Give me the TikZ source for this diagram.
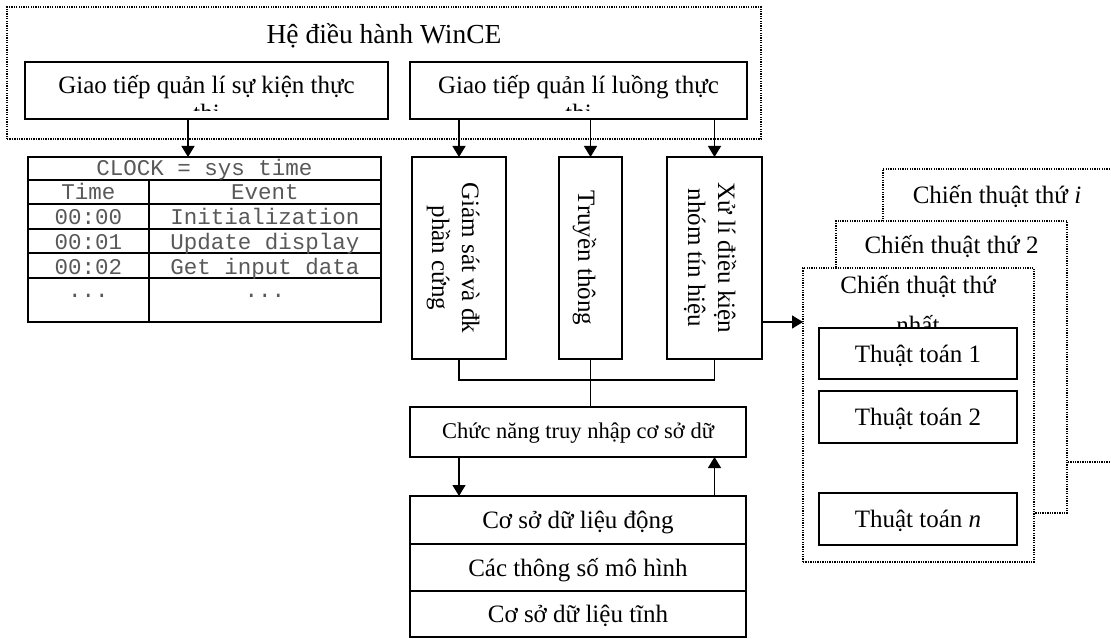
\documentclass[tikz,border=0pt]{standalone}
\usepackage{fontspec}
\setmainfont{Liberation Serif}
\setmonofont{Liberation Mono}
\usetikzlibrary{arrows.meta}
\begin{document}
\begin{tikzpicture}[x=1pt,y=-1pt,
  box/.style={draw, line width=1.5pt, fill=white, inner sep=0pt, outer sep=0pt},
  dotbox/.style={draw, line width=1.4pt, dash pattern=on 1.3pt off 1.1pt, fill=white, inner sep=0pt, outer sep=0pt},
  arr/.style={line width=1.3pt, -{Triangle[length=11pt,width=13pt]}},
  wire/.style={line width=1.3pt},
  tline/.style={line width=1.2pt},
  txt/.style={font=\fontsize{25}{28}\selectfont, inner sep=0pt},
  one/.style={font=\fontsize{25}{28}\selectfont, text height=17pt, text depth=0pt},
  vtxt/.style={font=\fontsize{25}{30}\selectfont, inner sep=0pt, rotate=-90, anchor=base},
  mono/.style={font=\fontsize{22.5}{27}\ttfamily, text=black!65, inner sep=0pt, anchor=base},
]
\useasboundingbox (0,0) rectangle (1111,639);
\fill[white] (0,0) rectangle (1111,639);

% WinCE frame
\node[dotbox, fill=none, minimum width=754pt, minimum height=132pt] (os) at (384,73) {};
\node[font=\fontsize{27.5}{33}\selectfont, anchor=base, inner sep=0pt] (title) at (384,44) {Hệ điều hành WinCE};
\node[box, minimum width=363pt, minimum height=57pt] (g1) at (206.5,90.5) {};
\node[box, minimum width=337pt, minimum height=57pt] (g2) at (578.5,90.5) {};
\begin{scope}
  \clip (25,62) rectangle (388,111);
  \node[txt, anchor=base] (g1t) at (206.5,94) {\begin{tabular}[t]{@{}c@{}}Giao tiếp quản lí sự kiện thực\\thi\end{tabular}};
\end{scope}
\begin{scope}
  \clip (410,62) rectangle (747,111);
  \node[txt, anchor=base] (g2t) at (578.5,94) {\begin{tabular}[t]{@{}c@{}}Giao tiếp quản lí luồng thực\\thi\end{tabular}};
\end{scope}

% event table
\node[draw, line width=1.5pt, inner sep=0pt, outer sep=0pt, minimum width=353pt, minimum height=165pt] (tbl) at (204.5,239.5) {};
\draw[tline] (28,180) -- (381,180);
\draw[tline] (28,204) -- (381,204);
\draw[tline] (28,229) -- (381,229);
\draw[tline] (28,253) -- (381,253);
\draw[tline] (28,278) -- (381,278);
\draw[tline] (149,180) -- (149,322);
\node[mono] (clk) at (204.5,176) {CLOCK = sys time};
\node[mono] (h1) at (88.5,200) {Time};
\node[mono] (h2) at (265,200) {Event};
\node[mono] (r1a) at (88.5,225) {00:00};
\node[mono] (r1b) at (265,225) {Initialization};
\node[mono] (r2a) at (88.5,249) {00:01};
\node[mono] (r2b) at (265,249) {Update display};
\node[mono] (r3a) at (88.5,274) {00:02};
\node[mono] (r3b) at (265,274) {Get input data};
\node[mono] (r4a) at (88.5,297) {...};
\node[mono] (r4b) at (265,297) {...};

% vertical modules
\node[box, minimum width=94pt, minimum height=202pt] (v1) at (459,258) {};
\node[box, minimum width=63pt, minimum height=202pt] (v2) at (590.5,258) {};
\node[box, minimum width=95pt, minimum height=202pt] (v3) at (714.5,258) {};
\node[vtxt] (v1t) at (462,258) {\begin{tabular}[t]{@{}c@{}}Giám sát và đk\\phần cứng\end{tabular}};
\node[vtxt] (v2t) at (578,258) {Truyền thông};
\node[vtxt] (v3t) at (718,258) {\begin{tabular}[t]{@{}c@{}}Xử lí điều kiện\\nhóm tín hiệu\end{tabular}};

% database access
\node[box, minimum width=336pt, minimum height=50pt, font=\fontsize{22.5}{27}\selectfont, text height=12pt, text depth=0pt] (cn) at (578,432) {Chức năng truy nhập cơ sở dữ};
\node[box, one, minimum width=336pt, minimum height=48pt] (db1) at (578,520) {Cơ sở dữ liệu động};
\node[box, one, minimum width=336pt, minimum height=47pt] (db2) at (578,567.5) {Các thông số mô hình};
\node[box, one, minimum width=336pt, minimum height=46pt] (db3) at (578,614) {Cơ sở dữ liệu tĩnh};

% strategies
\node[dotbox, minimum width=231pt, minimum height=293pt] (si) at (998.5,315.5) {};
\node[txt, anchor=base] (sit) at (997,204) {Chiến thuật thứ \textit{i}};
\node[dotbox, minimum width=231pt, minimum height=292pt] (s2) at (951.5,367) {};
\node[txt, anchor=base] (s2t) at (951.5,254) {Chiến thuật thứ 2};
\node[dotbox, minimum width=231pt, minimum height=294pt] (s1) at (918.5,415) {};
\node[txt, anchor=base, font=\fontsize{25}{40}\selectfont] (s1t) at (918,293) {\begin{tabular}[t]{@{}c@{}}Chiến thuật thứ\\nhất\end{tabular}};
\node[box, one, minimum width=198pt, minimum height=51pt] (t1) at (918,353.5) {Thuật toán 1};
\node[box, one, minimum width=198pt, minimum height=52pt] (t2) at (918,417) {Thuật toán 2};
\node[box, one, minimum width=198pt, minimum height=52pt] (tn) at (918,519) {Thuật toán \textit{n}};

% connectors
\coordinate (ax) at (188,0);
\coordinate (ay) at (0,322);
\draw[arr] (g1.south -| ax) -- (tbl.north -| ax);
\draw[arr] (g2.south -| v1.north) -- (v1.north);
\draw[arr] (g2.south -| v2.north) -- (v2.north);
\draw[arr] (g2.south -| v3.north) -- (v3.north);
\draw[arr] (v3.east |- ay) -- (s1.west |- ay);
\draw[wire] (v1.south) -- ++(0,21) -| (v3.south);
\draw[wire] (v2.south) -- (v2.south |- cn.north);
\draw[arr] (cn.south -| v1.south) -- (db1.north -| v1.south);
\draw[arr] (db1.north -| v3.south) -- (cn.south -| v3.south);
\end{tikzpicture}
\end{document}
